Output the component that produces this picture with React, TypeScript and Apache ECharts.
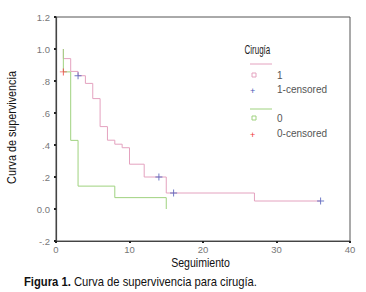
import React, { useEffect, useRef } from "react";
import * as echarts from "echarts";

// Kaplan-Meier data
const group1Times = [1, 2, 3, 4, 5, 6, 7, 8, 9, 10, 12, 15, 27];
const group1Surv = [0.94, 0.86, 0.833, 0.785, 0.69, 0.515, 0.43, 0.405, 0.383, 0.28, 0.2, 0.1, 0.05];
const group1End = 36;
const group1CensorTimes = [3, 14, 16, 36];
const group1CensorSurv = [0.833, 0.2, 0.1, 0.05];

const group0Times = [1, 2, 3, 8, 15];
const group0Surv = [0.857, 0.429, 0.143, 0.071, 0];
const group0End = 15;
const group0CensorTimes = [1];
const group0CensorSurv = [0.857];

const yTicks = [-0.2, 0, 0.2, 0.4, 0.6, 0.8, 1.0, 1.2];
const yTickLabels = ["-.2", "0.0", ".2", ".4", ".6", ".8", "1.0", "1.2"];

const legendTitle = "Cirugía";
const legendLabels = ["1", "1-censored", "0", "0-censored"];
const xName = "Seguimiento";
const yName = "Curva de supervivencia";
const captionBold = "Figura 1.";
const captionText = " Curva de supervivencia para cirugía.";

const PINK = "#e4a2bf";
const BLUE = "#4a58b8";
const GREEN = "#9fd27f";
const RED = "#f03a3a";
const SANS = "'Liberation Sans', Arial, sans-serif";

function steps(times: number[], surv: number[], end: number): number[][] {
  const pts: number[][] = [];
  let prev = 1.0;
  times.forEach((t, i) => {
    pts.push([t, prev]);
    pts.push([t, surv[i]]);
    prev = surv[i];
  });
  if (end > times[times.length - 1]) pts.push([end, prev]);
  return pts;
}

const PLUS = "path://M4.3,0h1.4v10h-1.4zM0,4.3h10v1.4h-10z";

export default function App() {
  const ref = useRef<HTMLDivElement>(null);
  useEffect(() => {
    if (!ref.current) return;
    const chart = echarts.init(ref.current, null, { renderer: "svg" });
    const lx = 250;
    const tx = 277;
    chart.setOption({
      animation: false,
      backgroundColor: "#ffffff",
      grid: {
        left: 56,
        right: 16,
        top: 17,
        bottom: 51,
        show: true,
        borderColor: "#555",
        borderWidth: 1,
      },
      xAxis: {
        type: "value",
        min: 0,
        max: 40,
        interval: 10,
        splitLine: { show: false },
        axisLine: { show: true, onZero: false, lineStyle: { color: "#444", width: 1.2 } },
        axisTick: { show: true, length: 2, lineStyle: { color: "#222", width: 2 } },
        axisLabel: { color: "#777", fontSize: 9.5, fontFamily: SANS, margin: 3 },
      },
      yAxis: {
        type: "value",
        min: -0.2,
        max: 1.2,
        interval: 0.2,
        splitLine: { show: false },
        axisLine: { show: true, onZero: false, lineStyle: { color: "#444", width: 1.2 } },
        axisTick: { show: true, length: 2, lineStyle: { color: "#222", width: 2 } },
        axisLabel: {
          color: "#777",
          fontSize: 9.5,
          fontFamily: SANS,
          margin: 6,
          formatter: (v: number) => {
            const idx = yTicks.findIndex((t) => Math.abs(t - v) < 1e-6);
            return idx >= 0 ? yTickLabels[idx] : "";
          },
        },
      },
      series: [
        {
          type: "line",
          data: steps(group1Times, group1Surv, group1End),
          showSymbol: false,
          lineStyle: { color: PINK, width: 1 },
          z: 2,
        },
        {
          type: "line",
          data: steps(group0Times, group0Surv, group0End),
          showSymbol: false,
          lineStyle: { color: GREEN, width: 1 },
          z: 3,
        },
        {
          type: "scatter",
          data: group1CensorTimes.map((t, i) => [t, group1CensorSurv[i]]),
          symbol: PLUS,
          symbolSize: 7,
          itemStyle: { color: BLUE },
          z: 4,
        },
        {
          type: "scatter",
          data: group0CensorTimes.map((t, i) => [t, group0CensorSurv[i]]),
          symbol: PLUS,
          symbolSize: 7,
          itemStyle: { color: RED },
          z: 4,
        },
      ],
      graphic: [
        {
          type: "text",
          x: 244.5,
          y: 50,
          scaleX: 0.64,
          style: { text: legendTitle, font: `12.5px ${SANS}`, fill: "#222", verticalAlign: "middle" },
        },
        { type: "line", shape: { x1: lx, y1: 64, x2: lx + 22, y2: 64 }, style: { stroke: PINK, lineWidth: 1 } },
        { type: "rect", shape: { x: 252, y: 73, width: 4, height: 4 }, style: { fill: "none", stroke: PINK, lineWidth: 1 } },
        { type: "text", x: tx, y: 75, style: { text: legendLabels[0], font: `10px ${SANS}`, fill: "#555", verticalAlign: "middle" } },
        { type: "text", x: 250, y: 86, style: { text: "+", font: `9px ${SANS}`, fill: BLUE, verticalAlign: "top" } },
        { type: "text", x: tx, y: 89, style: { text: legendLabels[1], font: `10px ${SANS}`, fill: "#555", verticalAlign: "middle" } },
        { type: "line", shape: { x1: lx, y1: 109, x2: lx + 22, y2: 109 }, style: { stroke: GREEN, lineWidth: 1 } },
        { type: "rect", shape: { x: 252, y: 116, width: 4, height: 4 }, style: { fill: "none", stroke: GREEN, lineWidth: 1 } },
        { type: "text", x: tx, y: 118, style: { text: legendLabels[2], font: `10px ${SANS}`, fill: "#555", verticalAlign: "middle" } },
        { type: "text", x: 250, y: 130, style: { text: "+", font: `9px ${SANS}`, fill: RED, verticalAlign: "top" } },
        { type: "text", x: tx, y: 133, style: { text: legendLabels[3], font: `10px ${SANS}`, fill: "#555", verticalAlign: "middle" } },
        {
          type: "text",
          x: 12,
          y: 127.5,
          rotation: Math.PI / 2,
          scaleX: 0.9,
          style: { text: yName, font: `12px ${SANS}`, fill: "#111", align: "center", verticalAlign: "middle" },
        },
        {
          type: "text",
          x: 200.5,
          y: 263,
          scaleX: 0.88,
          style: { text: xName, font: `12px ${SANS}`, fill: "#111", align: "center", verticalAlign: "middle" },
        },
        {
          type: "text",
          x: 24,
          y: 282,
          scaleX: 0.9,
          style: {
            text: `{b|${captionBold}}{n|${captionText}}`,
            verticalAlign: "middle",
            rich: {
              b: { font: `bold 12.5px ${SANS}`, fill: "#111" },
              n: { font: `12.5px ${SANS}`, fill: "#111" },
            },
          },
        },
      ],
    });
    return () => chart.dispose();
  }, []);
  return (
    <div
      ref={ref}
      style={{ position: "absolute", left: 0, top: 0, width: 366, height: 292, background: "#fff" }}
    />
  );
}
